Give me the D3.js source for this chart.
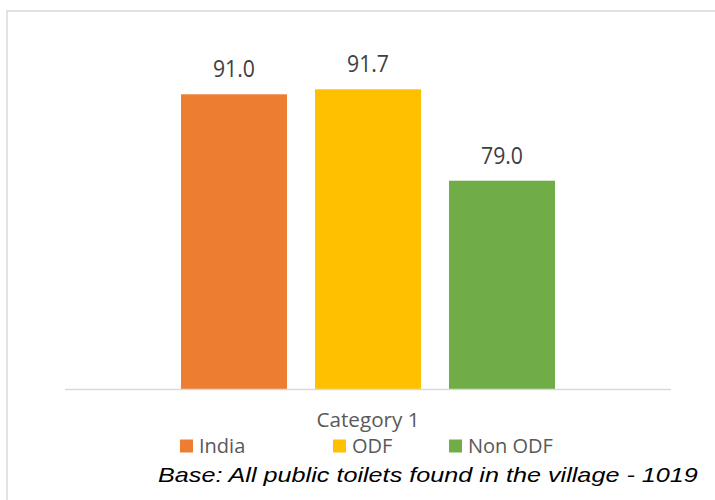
<!DOCTYPE html>
<html>
<head>
<meta charset="utf-8">
<script src="https://cdn.jsdelivr.net/npm/d3@7"></script>
<style>
  html, body { margin: 0; padding: 0; background: #ffffff; }
  svg { display: block; }
</style>
</head>
<body>
<svg id="chart" width="715" height="500"></svg>
<script>
// Share of public toilets, by group
const category = "Category 1";
const series = ["India", "ODF", "Non ODF"];
const values = [91.0, 91.7, 79.0];
const colors = ["#ED7D31", "#FFC000", "#70AD47"];
const footnote = "Base: All public toilets found in the village - 1019";

const svg = d3.select("#chart");
const W = 715, H = 500;

// chart frame (only top and left edges fall inside the view)
svg.append("path")
  .attr("d", `M7,${H + 5} L7,11 L${W + 5},11`)
  .attr("fill", "none")
  .attr("stroke", "#d9d9d9")
  .attr("stroke-width", 1.5);

const plot = { left: 65, right: 671, bottom: 389.5, top: 29.5 };

const x = d3.scaleBand()
  .domain(series)
  .range([181, 555])
  .paddingInner(0.209)
  .paddingOuter(0);

const y = d3.scaleLinear()
  .domain([50, 100])
  .range([plot.bottom, plot.top]);

const data = series.map((s, i) => ({ name: s, value: values[i], color: colors[i] }));

// bars
svg.append("g").selectAll("rect")
  .data(data)
  .join("rect")
  .attr("x", d => x(d.name))
  .attr("y", d => y(d.value))
  .attr("width", x.bandwidth())
  .attr("height", d => y(y.domain()[0]) - y(d.value))
  .attr("fill", d => d.color);

// value labels
svg.append("g").selectAll("text")
  .data(data)
  .join("text")
  .attr("x", d => x(d.name) + x.bandwidth() / 2)
  .attr("y", d => y(d.value) - 17)
  .attr("text-anchor", "middle")
  .attr("font-family", "'Open Sans', sans-serif")
  .attr("font-size", 23)
  .attr("textLength", 42)
  .attr("lengthAdjust", "spacingAndGlyphs")
  .attr("fill", "#404040")
  .text(d => d.value.toFixed(1));

// category axis line
svg.append("line")
  .attr("x1", plot.left).attr("x2", plot.right)
  .attr("y1", plot.bottom).attr("y2", plot.bottom)
  .attr("stroke", "#d9d9d9")
  .attr("stroke-width", 1.5);

// category label
svg.append("text")
  .attr("x", (plot.left + plot.right) / 2)
  .attr("y", 427)
  .attr("text-anchor", "middle")
  .attr("font-family", "'Open Sans', sans-serif")
  .attr("font-size", 20)
  .attr("textLength", 103)
  .attr("lengthAdjust", "spacingAndGlyphs")
  .attr("fill", "#595959")
  .text(category);

// legend
const legendX = [180, 333, 449];
const legend = svg.append("g").selectAll("g")
  .data(data)
  .join("g")
  .attr("transform", (d, i) => `translate(${legendX[i]},439.5)`);

legend.append("rect")
  .attr("width", 13)
  .attr("height", 13)
  .attr("fill", d => d.color);

legend.append("text")
  .attr("x", 19)
  .attr("y", 13.5)
  .attr("font-family", "'Open Sans', sans-serif")
  .attr("font-size", 20)
  .attr("fill", "#595959")
  .text(d => d.name);

// footnote, widened horizontally to span 158..698
const foot = svg.append("g");
const footText = foot.append("text")
  .attr("x", 0)
  .attr("y", 0)
  .attr("font-family", "'Liberation Sans', Arial, sans-serif")
  .attr("font-style", "italic")
  .attr("font-size", 20)
  .attr("fill", "#000000")
  .text(footnote);
const natural = footText.node().getComputedTextLength();
foot.attr("transform", `translate(158,482) scale(${540 / natural},1)`);
</script>
</body>
</html>
